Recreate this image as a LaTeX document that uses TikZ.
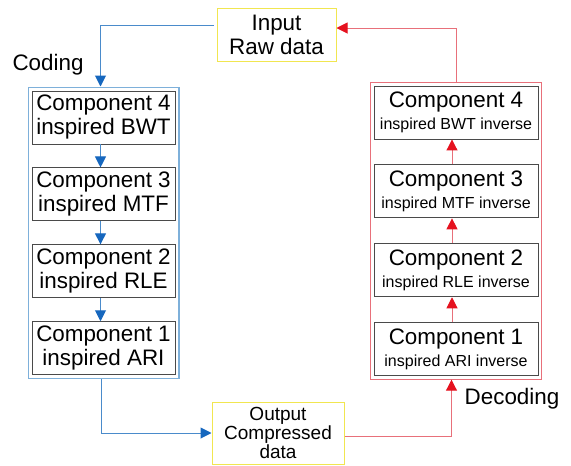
\documentclass[tikz,border=0pt]{standalone}
\usepackage{fontspec}
\setmainfont{Liberation Sans}
\usepackage{tikz}
\usetikzlibrary{arrows.meta,positioning,fit}
\definecolor{codeblue}{HTML}{4A8BCB}
\definecolor{codeframe}{HTML}{7EB0DA}
\definecolor{tipblue}{HTML}{1667BE}
\definecolor{decred}{HTML}{E8707A}
\definecolor{tipred}{HTML}{E5121F}
\definecolor{iobox}{HTML}{F1E650}
\definecolor{ink}{HTML}{4A4A4A}

\begin{document}
\begin{tikzpicture}[x=1pt,y=-1pt,font=\fontsize{22.4}{24}\selectfont]
\tikzset{comp/.style={draw=ink,fill=white,line width=0.9pt,minimum height=53pt,align=center,inner sep=1pt}, lcomp/.style={comp,minimum width=143pt}, rcomp/.style={comp,minimum width=164pt}, io/.style={draw=iobox,line width=1pt,align=center,inner sep=1pt}, frame/.style={draw,line width=1.1pt,inner sep=3.5pt}, barr/.style={draw=codeblue,line width=1pt,-{Triangle[length=11pt,width=11pt,color=tipblue]}}, rarr/.style={draw=decred,line width=1pt,-{Triangle[length=11pt,width=11pt,color=tipred]}}}
\useasboundingbox (0,0) rectangle (571,466);
\node[io,minimum width=119pt,minimum height=53pt] (in) at (276.5,34.5) {Input\\Raw data};
\node[io,minimum width=132pt,minimum height=62pt,font=\fontsize{19}{19}\selectfont] (out) at (278,433) {Output\\Compressed\\data};
% coding side
\node[lcomp] (c4) at (103.5,117.5) {Component 4\\inspired BWT};
\node[lcomp,below=23pt of c4] (c3) {Component 3\\inspired MTF};
\node[lcomp,below=23pt of c3] (c2) {Component 2\\inspired RLE};
\node[lcomp,below=23pt of c2] (c1) {Component 1\\inspired ARI};
\node[frame,draw=codeframe,fit=(c4)(c1)] (enc) {};
% decoding side
\node[rcomp] (d4) at (456,112.5) {Component 4\\[-2pt]{\fontsize{16}{19}\selectfont inspired BWT inverse}};
\node[rcomp,below=25pt of d4] (d3) {Component 3\\[-2pt]{\fontsize{16}{19}\selectfont inspired MTF inverse}};
\node[rcomp,below=25pt of d3] (d2) {Component 2\\[-2pt]{\fontsize{16}{19}\selectfont inspired RLE inverse}};
\node[rcomp,below=25pt of d2] (d1) {Component 1\\[-2pt]{\fontsize{16}{19}\selectfont inspired ARI inverse}};
\node[frame,draw=decred,fit=(d4)(d1),inner sep=3pt] (dec) {};
\node (lc) at (48,65) {Coding};
\node (ld) at (512,399) {Decoding};
\draw[barr] ([yshift=9.5pt,xshift=-3pt]in.west) -| ([xshift=-3pt]enc.north);
\draw[barr] ([xshift=-3pt]c4.south) -- ([xshift=-3pt]c3.north); \draw[barr] ([xshift=-3pt]c3.south) -- ([xshift=-3pt]c2.north); \draw[barr] ([xshift=-3pt]c2.south) -- ([xshift=-3pt]c1.north);
\draw[barr] ([xshift=-2pt]enc.south) |- (out.west);
\draw[rarr] ([yshift=-3pt]out.east) -| ([xshift=-4.5pt]dec.south);
\draw[rarr] ([xshift=-4pt]d1.north) -- ([xshift=-4pt]d2.south); \draw[rarr] ([xshift=-4pt]d2.north) -- ([xshift=-4pt]d3.south); \draw[rarr] ([xshift=-4pt]d3.north) -- ([xshift=-4pt]d4.south);
\draw[rarr] (dec.north) |- ([yshift=6.5pt]in.east);
\end{tikzpicture}
\end{document}
